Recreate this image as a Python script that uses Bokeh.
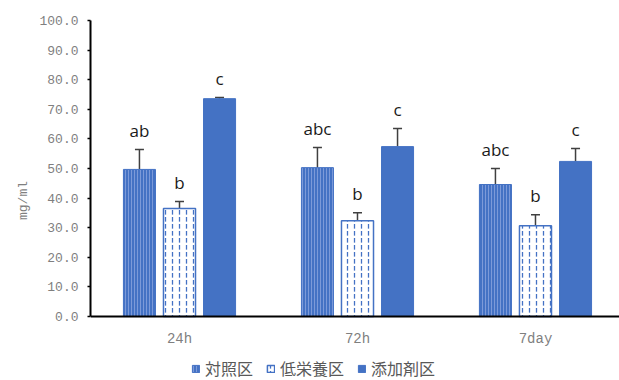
from bokeh.plotting import figure
from bokeh.models import (ColumnDataSource, Whisker, TeeHead, FixedTicker, Legend,
                          LegendItem, Range1d, NumeralTickFormatter, Span)
from bokeh.core.properties import value
from bokeh.embed import file_html
from bokeh.resources import INLINE

# ---- data ----
categories = ["24h", "72h", "7day"]
series_names = ["対照区", "低栄養区", "添加剤区"]
control = [49.7, 50.3, 44.6]
low_nutrition = [36.5, 32.4, 30.7]
additive = [73.6, 57.4, 52.4]
control_err = [6.7, 6.8, 5.4]
low_nutrition_err = [2.4, 2.7, 3.7]
additive_err = [0.4, 6.1, 4.4]
control_sig = ["ab", "abc", "abc"]
low_nutrition_sig = ["b", "b", "b"]
additive_sig = ["c", "c", "c"]
y_ticks = [0, 10, 20, 30, 40, 50, 60, 70, 80, 90, 100]

BLUE = "#4472C4"
GRAY = "#7f7f7f"

# frame reaches the bottom of the picture so the legend can sit below the axis
p = figure(width=619, height=380, output_backend="svg", toolbar_location=None,
           x_range=Range1d(0, 2.972), y_range=Range1d(-21.6, 100),
           min_border_left=90, min_border_right=0, min_border_top=20,
           min_border_bottom=0)
p.outline_line_color = None
p.xgrid.grid_line_color = None
p.ygrid.grid_line_color = None
p.background_fill_color = "white"
p.border_fill_color = "white"
p.xaxis.visible = False

centers = [i + 0.5 for i in range(len(categories))]
offsets = [-0.225, 0.0, 0.225]
bar_w = 0.18

series = [
    (control, control_err, control_sig,
     dict(fill_color=BLUE, line_color=BLUE, hatch_pattern="vertical_line",
          hatch_color="#93ace2", hatch_scale=3, hatch_weight=0.7)),
    (low_nutrition, low_nutrition_err, low_nutrition_sig,
     dict(fill_color="white", line_color=BLUE, line_width=1.5,
          hatch_pattern="vertical_dash", hatch_color=BLUE, hatch_scale=7,
          hatch_weight=1.3)),
    (additive, additive_err, additive_sig,
     dict(fill_color=BLUE, line_color=BLUE)),
]

items = []
for k, (vals, errs, sig, style) in enumerate(series):
    xs = [c + offsets[k] for c in centers]
    upper = [v + e for v, e in zip(vals, errs)]
    src = ColumnDataSource(dict(x=xs, top=vals, upper=upper, sig=sig,
                                ty=[u + 6.5 for u in upper]))
    r = p.vbar(x="x", top="top", bottom=0, width=bar_w, source=src, **style)
    items.append(LegendItem(label=series_names[k], renderers=[r]))
    w = Whisker(base="x", lower="top", upper="upper", source=src,
                line_color="#404040", line_width=1.5,
                upper_head=TeeHead(size=9, line_color="#404040", line_width=1.5),
                lower_head=None)
    p.add_layout(w)
    p.text(x="x", y="ty", text="sig", source=src, text_align="center",
           text_baseline="alphabetic", text_font=value("Open Sans"),
           text_font_size="17px", text_color="#1a1a1a")

# x axis line at zero and category labels
p.add_layout(Span(location=0, dimension="width", line_color="black", line_width=2))
cat_src = ColumnDataSource(dict(x=centers, y=[0] * len(centers), t=categories))
p.text(x="x", y="y", text="t", source=cat_src, text_align="center",
       text_baseline="middle", y_offset=22, text_font=value("Liberation Mono"),
       text_font_size="14px", text_color=GRAY)

# y axis
p.yaxis.bounds = (0, 100)
p.yaxis.ticker = FixedTicker(ticks=y_ticks)
p.yaxis.formatter = NumeralTickFormatter(format="0.0")
p.yaxis.minor_tick_line_color = None
p.yaxis.axis_line_color = "black"
p.yaxis.axis_line_width = 2
p.yaxis.major_tick_line_color = "black"
p.yaxis.major_tick_line_width = 1.5
p.yaxis.major_tick_out = 3
p.yaxis.major_tick_in = 0
p.yaxis.major_label_text_font = "Liberation Mono"
p.yaxis.major_label_text_font_size = "13px"
p.yaxis.major_label_text_color = GRAY
p.yaxis.major_label_standoff = 9
p.yaxis.axis_label = "mg/ml"
p.yaxis.axis_label_text_font = "Liberation Mono"
p.yaxis.axis_label_text_font_size = "13px"
p.yaxis.axis_label_text_font_style = "normal"
p.yaxis.axis_label_text_color = GRAY
p.yaxis.axis_label_standoff = 5

legend = Legend(items=items, orientation="horizontal", location=(101, 0),
                glyph_width=9, glyph_height=9, label_standoff=5, spacing=13,
                padding=0, margin=0, border_line_color=None,
                background_fill_alpha=0,
                label_text_font="Noto Sans CJK JP", label_text_font_size="16px",
                label_text_color="#595959")
p.add_layout(legend, "center")

open("out.html", "w").write(file_html(p, INLINE))
